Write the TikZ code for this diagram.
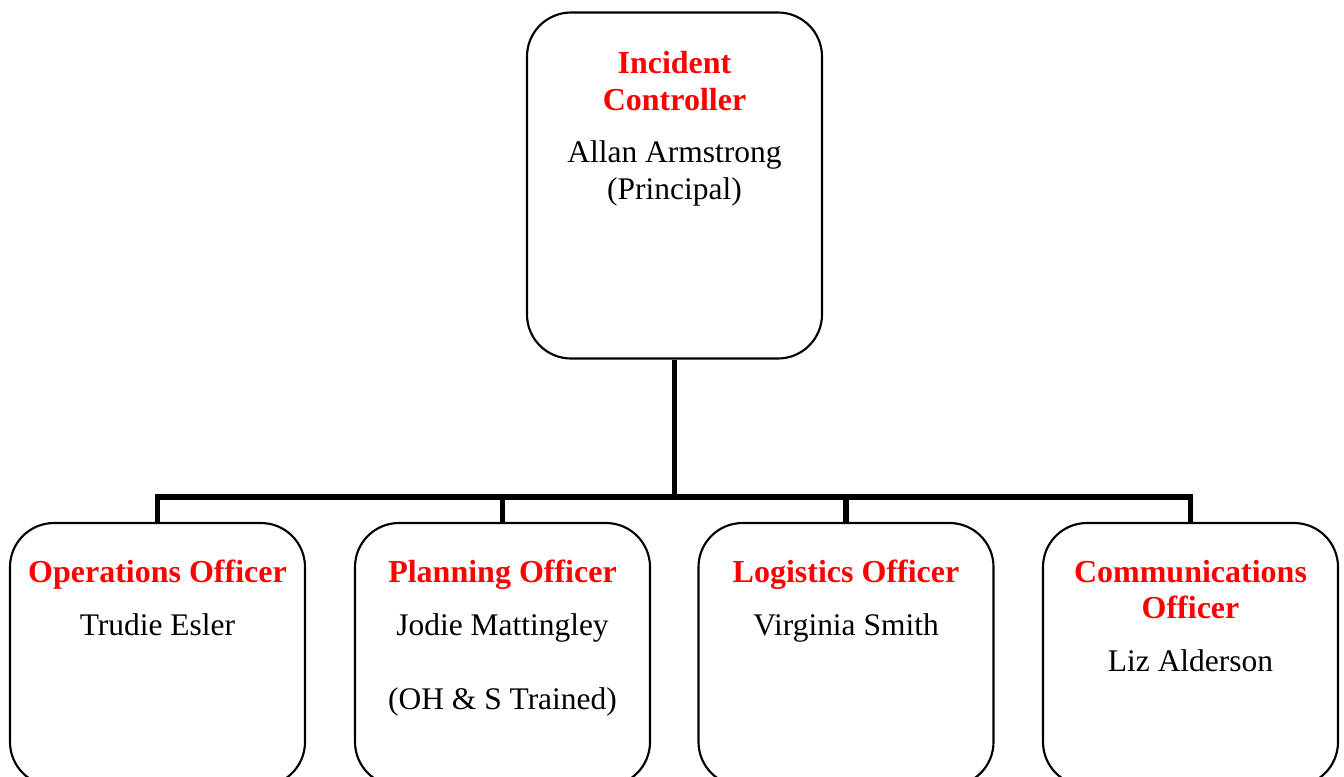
\documentclass[tikz,border=0pt]{standalone}
\usepackage{fontspec}
\setmainfont{Liberation Serif}
\begin{document}
\begin{tikzpicture}[x=0.75pt,y=-0.75pt,
  box/.style={draw=black, line width=1.6pt, rounded corners=33pt, rectangle,
    minimum width=221.25pt, inner sep=0pt, fill=white},
  topbox/.style={box, minimum height=259.5pt},
  lowbox/.style={box, minimum height=197.25pt},
  conn/.style={draw=black, line width=3.8pt, line join=miter},
  role/.style={anchor=base, inner sep=0pt, text=red, font=\fontsize{24}{28}\selectfont\bfseries},
  person/.style={anchor=base, inner sep=0pt, text=black, font=\fontsize{23.6}{28}\selectfont}]
\clip (0,0) rectangle (1344,776);
\fill[white] (0,0) rectangle (1344,776);
% boxes
\node[topbox] (ic) at (674.5,185.5) {};
\node[lowbox] (ops) at (157.5,654.5) {};
\node[lowbox] (plan) at (502.5,654.5) {};
\node[lowbox] (log) at (846,654.5) {};
\node[lowbox] (com) at (1190.5,654.5) {};
% connectors
\coordinate (bar) at (674.5,497);
\draw[conn] (ic.south) -- (bar);
\draw[conn] (bar) -| (ops.north);
\draw[conn] (bar) -| (plan.north);
\draw[conn] (bar) -| (log.north);
\draw[conn] (bar) -| (com.north);
% texts
\node[role] (t1) at (674.5,73) {Incident};
\node[role] (t2) at (674.5,110) {Controller};
\node[person] (t3) at (674.5,162) {Allan Armstrong};
\node[person] (t4) at (674.5,199) {(Principal)};
\node[role] (o1) at (157.5,582) {Operations Officer};
\node[person] (o2) at (157.5,635) {Trudie Esler};
\node[role] (p1) at (502.5,582) {Planning Officer};
\node[person] (p2) at (502.5,635) {Jodie Mattingley};
\node[person] (p3) at (502.5,709) {(OH \& S Trained)};
\node[role] (l1) at (846,582) {Logistics Officer};
\node[person] (l2) at (846,635) {Virginia Smith};
\node[role] (c1) at (1190.5,582) {Communications};
\node[role] (c2) at (1190.5,618) {Officer};
\node[person] (c3) at (1190.5,671) {Liz Alderson};
\end{tikzpicture}
\end{document}
